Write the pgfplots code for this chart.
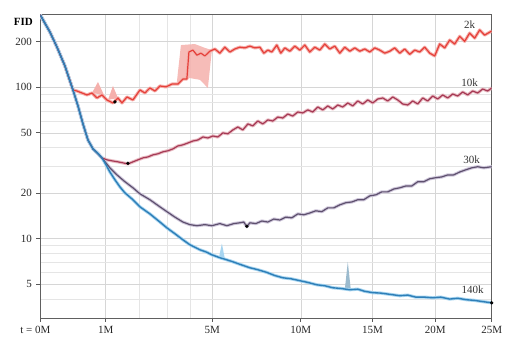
\documentclass[border=0pt]{standalone}
\usepackage{fontspec}
\setmainfont{Liberation Serif}
\usepackage{pgfplots}
\usepackage{pgfplotstable}
\pgfplotsset{compat=1.18}
\definecolor{c2k}{HTML}{E5403A}
\definecolor{c2kb}{HTML}{F5B0AC}
\definecolor{c10k}{HTML}{A63A55}
\definecolor{c10kb}{HTML}{E9BCC3}
\definecolor{c30k}{HTML}{5E506E}
\definecolor{c30kb}{HTML}{CEC6DA}
\definecolor{c140k}{HTML}{2E7FB8}
\definecolor{c140kb}{HTML}{A8D5F0}
% x column u = t^0.6 (t in millions of images), the chart's x scale
\pgfplotstableread{
u fid
0 300
0.148 231
0.255 184
0.377 138
0.499 96
0.560 94.5
0.637 91.7
0.713 89.0
0.790 91.7
0.866 85.0
0.942 89.0
1.018 82.5
1.110 78.8
1.187 85.0
1.248 78.8
1.324 86.3
1.416 82.5
1.523 96
1.599 91.7
1.675 99
1.752 94.5
1.828 102
1.920 100.6
2.011 105
2.103 105
2.179 113.4
2.240 113.4
2.271 171
2.332 176
2.393 163
2.454 168
2.515 161
2.591 173
2.668 179
2.744 168
2.820 184
2.897 171
2.973 179
3.049 184
3.126 182
3.202 187
3.278 182
3.355 184
3.416 168
3.477 176
3.538 171
3.614 190
3.675 168
3.737 182
3.813 173
3.889 187
3.966 176
4.042 190
4.118 171
4.195 184
4.271 176
4.347 193
4.424 179
4.500 187
4.577 168
4.653 184
4.729 173
4.806 182
4.882 173
4.958 179
5.035 171
5.111 182
5.187 176
5.264 168
5.340 173
5.416 182
5.493 168
5.569 179
5.645 165
5.722 176
5.798 171
5.874 184
5.951 168
6.027 161
6.103 193
6.180 182
6.256 205
6.332 193
6.409 217
6.485 201
6.561 228
6.638 211
6.714 239
6.790 221
6.898 235
}\tabA
\pgfplotstableread{
u fid
0 300
0.148 231
0.255 184
0.377 138
0.499 96
0.576 75.3
0.652 57.3
0.728 44.9
0.805 39.2
0.881 36.5
0.942 34.2
1.018 33.2
1.095 32.7
1.187 32.2
1.263 31.7
1.339 31.2
1.416 32.2
1.492 33.2
1.568 34.2
1.645 34.7
1.721 35.8
1.797 36.4
1.874 37.5
1.950 38.1
2.026 39.2
2.103 41.0
2.179 41.7
2.256 42.9
2.332 44.2
2.408 44.9
2.485 47.0
2.561 46.3
2.637 47.7
2.714 47.0
2.790 50.0
2.866 49.3
2.943 52.3
3.019 54.7
3.095 52.3
3.172 57.3
3.248 55.6
3.324 59.9
3.400 57.3
3.477 60.9
3.553 59.9
3.629 63.6
3.706 62.7
3.782 66.6
3.858 64.6
3.935 68.7
4.011 67.7
4.087 70.9
4.164 68.7
4.240 74.1
4.317 70.9
4.393 75.3
4.469 71.9
4.546 76.4
4.622 74.1
4.699 78.8
4.775 75.3
4.851 81.2
4.928 77.6
5.004 82.5
5.080 78.8
5.157 83.7
5.233 85.0
5.309 81.2
5.386 86.3
5.462 82.5
5.538 77.6
5.615 76.4
5.691 81.2
5.768 77.6
5.844 85.0
5.920 81.2
5.997 87.6
6.073 83.7
6.149 89.0
6.226 85.0
6.302 90.3
6.378 87.6
6.455 93.1
6.531 89.0
6.607 94.5
6.684 91.7
6.760 97.4
6.836 94.5
6.898 98.9
}\tabB
\pgfplotstableread{
u fid
0 300
0.148 231
0.255 184
0.377 138
0.499 96
0.576 75.3
0.652 57.3
0.728 44.9
0.805 39.2
0.881 36.5
0.942 34.2
1.003 31.7
1.064 29.4
1.172 26.4
1.293 23.8
1.416 21.7
1.523 19.8
1.675 18.1
1.828 16.25
1.935 15.1
2.057 13.9
2.179 12.9
2.286 12.4
2.393 12.2
2.515 12.4
2.622 12.2
2.744 12.6
2.851 12.2
2.958 12.6
3.049 12.75
3.110 12.9
3.156 12.0
3.202 12.75
3.294 12.6
3.385 13.1
3.477 12.9
3.568 13.5
3.660 13.3
3.752 13.9
3.843 13.75
3.935 14.6
4.027 14.4
4.118 14.8
4.210 15.3
4.302 15.1
4.393 16.0
4.485 16.0
4.577 16.75
4.668 17.3
4.760 17.5
4.851 18.1
4.943 18.1
5.035 19.2
5.126 19.5
5.218 20.4
5.309 20.4
5.401 21.3
5.493 21.7
5.584 22.3
5.676 22.3
5.768 23.8
5.860 23.8
5.951 24.9
6.043 25.3
6.134 25.6
6.226 26.4
6.317 26.4
6.409 27.6
6.500 28.5
6.592 29.4
6.684 29.9
6.775 29.4
6.898 29.9
}\tabC
\pgfplotstableread{
u fid
0 300
0.148 231
0.255 184
0.377 138
0.499 96
0.576 75.3
0.652 57.3
0.728 44.9
0.805 39.2
0.881 36.5
0.942 34.2
0.988 31.7
1.064 27.6
1.141 24.5
1.217 22.0
1.293 20.1
1.416 18.1
1.523 16.25
1.675 14.6
1.828 12.9
1.935 11.8
2.057 10.8
2.179 9.85
2.286 9.13
2.439 8.46
2.530 8.2
2.622 7.84
2.744 7.5
2.836 7.3
2.943 7.05
3.064 6.75
3.202 6.44
3.324 6.25
3.461 6.0
3.584 5.72
3.706 5.53
3.828 5.45
3.966 5.29
4.088 5.15
4.225 4.97
4.347 4.9
4.470 4.75
4.592 4.7
4.729 4.61
4.851 4.65
4.958 4.5
5.080 4.41
5.203 4.38
5.340 4.3
5.493 4.21
5.615 4.25
5.737 4.12
5.874 4.12
5.997 4.08
6.119 4.12
6.256 4.0
6.378 4.05
6.516 3.96
6.638 3.92
6.760 3.85
6.898 3.78
}\tabD
\begin{document}
\begin{tikzpicture}
\begin{axis}[
  scale only axis, width=451.4pt, height=303pt,
  xmin=0, xmax=6.898, ymin=3, ymax=300, ymode=log,
  xtick={0,1,2.627,3.981,5.078,6.034,6.898},
  xticklabels={{t = 0M\hspace*{10pt}},1M,5M,10M,15M,20M,25M},
  minor xtick={1.516,1.933,2.297},
  ytick={5,10,20,50,100,200}, yticklabels={5,10,20,50,100,200},
  minor ytick={3,4,6,7,8,9,30,40,60,70,80,90},
  grid=both,
  major grid style={draw=gray!32, line width=0.6pt},
  minor grid style={draw=gray!20, line width=0.5pt},
  tick align=outside, xtick pos=bottom, ytick pos=left,
  major tick length=4pt, minor tick length=0pt,
  tick style={draw=gray!70!black, line width=0.8pt},
  axis line style={draw=gray!75!black, line width=1pt},
  tick label style={font=\fontsize{11}{13}\selectfont, text=black!85},
  xticklabel style={yshift=-1pt},
  yticklabel style={xshift=-1pt},
]
% bands
\addplot[draw=none, fill=c2kb, fill opacity=0.85] coordinates {(2.087,108.4) (2.149,190) (2.362,193) (2.515,182) (2.622,176) (2.561,99) (2.439,112) (2.286,115) (2.179,112)} -- cycle;
\addplot[draw=none, fill=c2kb] coordinates {(0.790,91.7) (0.881,108.4) (0.973,89)} -- cycle;
\addplot[draw=none, fill=c2kb] coordinates {(1.034,82.5) (1.110,102) (1.187,85)} -- cycle;
\addplot[draw=none, fill=c140kb] coordinates {(2.729,7.5) (2.775,9.3) (2.820,7.4)} -- cycle;
\addplot[draw=none, fill=c140kb!70!gray] coordinates {(4.653,4.61) (4.699,7.05) (4.745,4.61)} -- cycle;
\addplot[c2kb, line width=3.2pt, line join=round] table[x=u,y=fid]{\tabA};
\addplot[c10kb, line width=3.2pt, line join=round] table[x=u,y=fid]{\tabB};
\addplot[c30kb, line width=3.2pt, line join=round] table[x=u,y=fid]{\tabC};
\addplot[c140kb, line width=3.2pt, line join=round] table[x=u,y=fid]{\tabD};
% lines
\addplot[c2k, line width=1.2pt, line join=round] table[x=u,y=fid]{\tabA};
\addplot[c10k, line width=1.2pt, line join=round] table[x=u,y=fid]{\tabB};
\addplot[c30k, line width=1.2pt, line join=round] table[x=u,y=fid]{\tabC};
\addplot[c140k, line width=1.4pt, line join=round] table[x=u,y=fid]{\tabD};
% best points
\addplot[only marks, mark=*, mark size=1.5pt, black] coordinates {(1.141,80) (1.339,31.5) (3.156,12.1) (6.898,3.78)};
\node[font=\fontsize{11}{13}\selectfont, text=black!80] at (axis cs:6.561,257) {2k};
\node[font=\fontsize{11}{13}\selectfont, text=black!80] at (axis cs:6.561,107) {10k};
\node[font=\fontsize{11}{13}\selectfont, text=black!80] at (axis cs:6.592,33.2) {30k};
\node[font=\fontsize{11}{13}\selectfont, text=black!80] at (axis cs:6.607,4.61) {140k};
\end{axis}
\node[anchor=east, font=\bfseries\fontsize{11}{13}\selectfont] at ([shift={(-4pt,-7pt)}]current axis.north west) {FID};
\pgfresetboundingbox
\path[use as bounding box] ([shift={(-40.3pt,-23pt)}]current axis.south west) rectangle ([shift={(16.3pt,15pt)}]current axis.north east);
\end{tikzpicture}
\end{document}
